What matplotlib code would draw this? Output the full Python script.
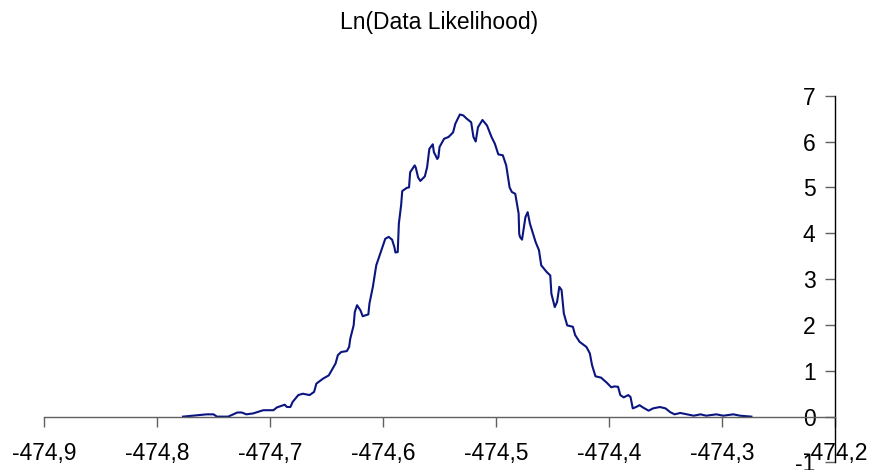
import matplotlib.pyplot as plt
from matplotlib.ticker import FixedLocator, FuncFormatter

plt.rcParams['font.family'] = ['Liberation Sans', 'DejaVu Sans']

# Ln(Data Likelihood) values
ln_likelihood = [
    -474.777, -474.756, -474.750, -474.747, -474.737, -474.729, -474.725, -474.721,
    -474.715, -474.706, -474.697, -474.694, -474.687, -474.685, -474.682, -474.680,
    -474.675, -474.671, -474.665, -474.661, -474.659, -474.653, -474.648, -474.642,
    -474.640, -474.637, -474.632, -474.630, -474.629, -474.626, -474.625, -474.623,
    -474.620, -474.618, -474.613, -474.612, -474.609, -474.606, -474.603, -474.598,
    -474.595, -474.592, -474.590, -474.589, -474.587, -474.586, -474.584, -474.583,
    -474.579, -474.577, -474.576, -474.572, -474.571, -474.569, -474.567, -474.563,
    -474.561, -474.559, -474.556, -474.555, -474.552, -474.551, -474.550, -474.546,
    -474.542, -474.538, -474.536, -474.532, -474.529, -474.526, -474.522, -474.520,
    -474.518, -474.516, -474.512, -474.508, -474.504, -474.501, -474.498, -474.494,
    -474.491, -474.488, -474.486, -474.483, -474.480, -474.4795, -474.4788, -474.477,
    -474.474, -474.472, -474.470, -474.465, -474.462, -474.460, -474.455, -474.452,
    -474.451, -474.448, -474.446, -474.444, -474.442, -474.440, -474.437, -474.432,
    -474.430, -474.426, -474.420, -474.417, -474.415, -474.412, -474.407, -474.402,
    -474.398, -474.395, -474.392, -474.390, -474.387, -474.383, -474.381, -474.379,
    -474.376, -474.373, -474.370, -474.365, -474.361, -474.355, -474.350, -474.346,
    -474.342, -474.337, -474.331, -474.325, -474.319, -474.314, -474.305, -474.299,
    -474.290, -474.284, -474.274,
]

density = [
    0.00, 0.05, 0.05, 0.00, 0.00, 0.09, 0.09, 0.05,
    0.07, 0.14, 0.14, 0.20, 0.26, 0.21, 0.21, 0.32,
    0.47, 0.50, 0.47, 0.54, 0.72, 0.83, 0.90, 1.16,
    1.34, 1.41, 1.43, 1.52, 1.70, 1.99, 2.28, 2.43,
    2.32, 2.19, 2.23, 2.47, 2.83, 3.30, 3.52, 3.88,
    3.92, 3.86, 3.70, 3.58, 3.59, 4.21, 4.61, 4.92,
    4.99, 5.00, 5.33, 5.48, 5.43, 5.22, 5.14, 5.24,
    5.44, 5.84, 5.94, 5.77, 5.62, 5.66, 5.88, 6.06,
    6.10, 6.20, 6.39, 6.59, 6.57, 6.50, 6.42, 6.10,
    6.00, 6.31, 6.47, 6.35, 6.10, 5.95, 5.72, 5.70,
    5.48, 5.00, 4.90, 4.86, 4.43, 3.99, 3.92, 3.86,
    4.35, 4.46, 4.21, 3.81, 3.63, 3.30, 3.15, 3.08,
    2.68, 2.39, 2.50, 2.83, 2.76, 2.25, 1.99, 1.96,
    1.78, 1.63, 1.52, 1.38, 1.12, 0.88, 0.85, 0.74,
    0.64, 0.66, 0.65, 0.47, 0.42, 0.47, 0.43, 0.18,
    0.21, 0.25, 0.20, 0.13, 0.18, 0.21, 0.18, 0.10,
    0.05, 0.08, 0.05, 0.02, 0.05, 0.02, 0.05, 0.02,
    0.05, 0.02, 0.00,
]

x_ticks = [-474.9, -474.8, -474.7, -474.6, -474.5, -474.4, -474.3, -474.2]
y_ticks = [-1, 0, 1, 2, 3, 4, 5, 6, 7]

fig = plt.figure(figsize=(8.72, 4.70), dpi=100)
ax = fig.add_axes([0.0505, 0.0160, 0.9071, 0.7804])

ax.plot(ln_likelihood, density, color='#0a1580', linewidth=1.5)

ax.set_xlim(-474.9, -474.2)
ax.set_ylim(-1, 7)

# axes cross like in the spreadsheet chart: x axis at 0, y axis on the right
ax.spines['bottom'].set_position(('data', 0))
ax.spines['left'].set_position(('data', -474.2))
ax.spines['top'].set_visible(False)
ax.spines['right'].set_visible(False)
ax.spines['bottom'].set_color('#606060')
ax.spines['left'].set_color('black')
ax.spines['bottom'].set_linewidth(1.0)
ax.spines['left'].set_linewidth(1.0)

ax.xaxis.set_major_locator(FixedLocator(x_ticks))
ax.yaxis.set_major_locator(FixedLocator(y_ticks))
ax.xaxis.set_major_formatter(FuncFormatter(lambda v, p: f"{v:.1f}".replace('.', ',')))
ax.yaxis.set_major_formatter(FuncFormatter(lambda v, p: f"{v:.0f}"))

ax.tick_params(axis='x', direction='out', length=7, width=1.0, color='#606060',
               labelsize=16.5, pad=11)
ax.tick_params(axis='y', direction='out', length=7, width=1.0, color='#606060',
               labelsize=16.5, pad=7)

fig.text(0.504, 1 - 23 / 470, 'Ln(Data Likelihood)', ha='center', va='center',
         fontsize=16.5)

fig.savefig('out.png', dpi=100)
